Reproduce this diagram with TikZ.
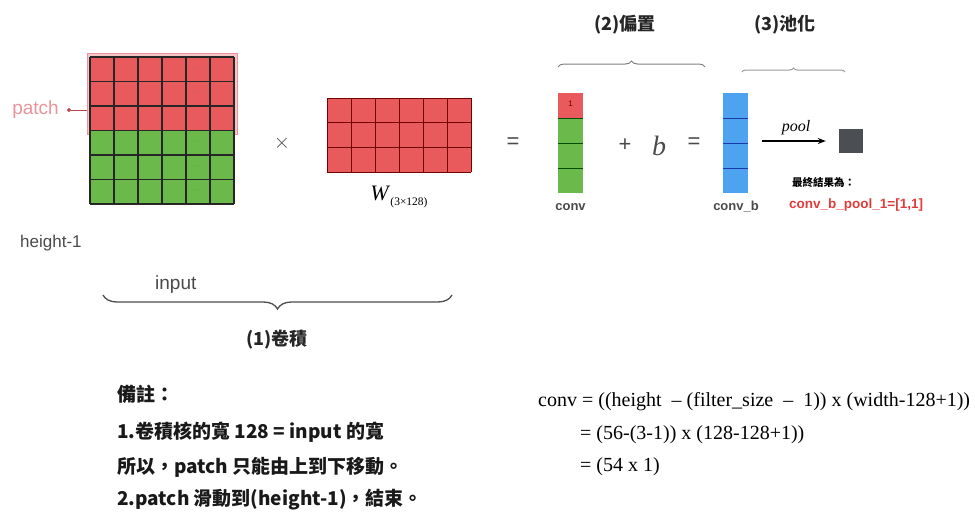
\documentclass[tikz,border=0pt]{standalone}
\usepackage{fontspec}
\setmainfont{Liberation Sans}
\newfontfamily\cjk{Noto Sans CJK TC}
\newfontfamily\tms{Liberation Serif}
\usetikzlibrary{decorations.pathreplacing,arrows.meta}
\definecolor{cred}{HTML}{E95A5C}
\definecolor{cgreen}{HTML}{6BB94B}
\definecolor{cblue}{HTML}{4DA3F0}
\definecolor{cpink}{HTML}{E8949A}
\definecolor{ctxt}{HTML}{4A4A4A}
\definecolor{csq}{HTML}{4B4E53}
\definecolor{cres}{HTML}{E03C3C}
\tikzset{
  gridline/.style={draw=black!85, line width=1.1pt},
  wline/.style={draw=red!45!black, line width=0.6pt},
  dotmark/.style={font=\fontsize{8}{8}\selectfont, text=black!55, inner sep=0},
  opsign/.style={font=\fontsize{22}{22}\selectfont, text=ctxt, inner sep=0},
  collabel/.style={font=\fontsize{13}{13}\selectfont\bfseries, text=ctxt, inner sep=0},
  lighttxt/.style={font=\fontsize{17}{17}\selectfont, text=ctxt, inner sep=0, anchor=west},
  title/.style={font=\cjk\bfseries\fontsize{18}{18}\selectfont, text=black!85, inner sep=0},
  note/.style={font=\cjk\bfseries\fontsize{19}{19}\selectfont, text=black!90, inner sep=0, anchor=west},
  formula/.style={font=\tms\fontsize{20}{20}\selectfont, text=black, inner sep=0, anchor=west},
  bracebig/.style={decorate, draw=black!70, line width=1.3pt},
  bracesmall/.style={decorate, draw=black!50, line width=1pt},
}
\begin{document}
\begin{tikzpicture}[x=1pt,y=-1pt]
\useasboundingbox (0,0) rectangle (975,512);
% ---------- input with patch ----------
\node[draw=cpink, fill=cred!35, line width=1pt, minimum width=150pt, minimum height=81pt, inner sep=0, anchor=north west] (patchbox) at (87,53) {};
\fill[cred] (90,57) rectangle (234,130.5);
\fill[cgreen] (90,130.5) rectangle (234,204);
\foreach \i in {0,...,6} \draw[gridline] (90+24*\i,57) -- (90+24*\i,204);
\foreach \j in {0,...,6} \draw[gridline] (90,57+24.5*\j) -- (234,57+24.5*\j);
\foreach \j in {0,...,5} \node[dotmark] (dots\j) at (198,68.25+24.5*\j) {$\cdots$};
\node[font=\fontsize{19}{19}\selectfont, text=cpink, inner sep=0, anchor=east] (patchlbl) at (59,110) {patch};
\coordinate (patchtip) at (67,110);
\draw[draw=cred!80!black, line width=0.8pt, {Circle[length=4pt]}-] (patchtip) -- (patchbox.west |- patchtip);
% ---------- times W ----------
\node[font=\fontsize{22}{22}\selectfont, text=ctxt, inner sep=0] (times) at (282,143) {$\times$};
\fill[cred] (327,98) rectangle (471,172);
\foreach \i in {0,...,6} \draw[wline] (327+24*\i,98) -- (327+24*\i,172);
\foreach \j in {0,...,3} \draw[wline] (327,98+24.667*\j) -- (471,98+24.667*\j);
\node[font=\tms\fontsize{22}{22}\selectfont, inner sep=0] (wlbl) at (399,197) {\textit{W}\raisebox{-5pt}{\fontsize{11.5}{11.5}\selectfont(3×128)}};
% ---------- conv ----------
\node[opsign] (eq1) at (513,143) {=};
\fill[cred] (558,93) rectangle (583,118);
\fill[cgreen] (558,118) rectangle (583,193);
\foreach \j in {118,143,168} \draw[draw=green!30!black, line width=0.8pt] (558,\j) -- (583,\j);
\node[font=\fontsize{8}{8}\selectfont, text=red!40!black, inner sep=0] (one) at (570.5,104) {1};
\node[collabel] (convlbl) at (570.5,207) {conv};
\node[opsign] (plus) at (625,145) {+};
\node[font=\tms\itshape\fontsize{28}{28}\selectfont, text=ctxt, inner sep=0] (blbl) at (659,146) {b};
\node[opsign] (eq2) at (694,143) {=};
% ---------- conv_b ----------
\fill[cblue] (723,93) rectangle (748,193);
\foreach \j in {118,143,168} \draw[draw=blue!50!cblue!70!black, line width=0.6pt] (723,\j) -- (748,\j);
\node[collabel] (convblbl) at (736,207) {conv\_b};
% ---------- pool ----------
\node[fill=csq, minimum size=24pt, inner sep=0] (sq) at (851,141) {};
\coordinate (poolA) at (762,141);
\draw[line width=1.6pt, -{Stealth[length=8pt,width=6pt]}, shorten >=13pt] (poolA) -- (sq.west);
\node[font=\tms\itshape\fontsize{16}{16}\selectfont, inner sep=0] (poollbl) at (796,128) {pool};
\node[font=\cjk\bfseries\fontsize{10.5}{10.5}\selectfont, inner sep=0, anchor=west] (final) at (792,183) {最終結果為：};
\node[font=\fontsize{13.5}{13.5}\selectfont\bfseries, text=cres, inner sep=0, anchor=west] (result) at (789,205) {conv\_b\_pool\_1=[1,1]};
% ---------- titles and braces ----------
\node[title] (t2) at (625,25) {(2)偏置};
\node[title] (t3) at (785,25) {(3)池化};
\draw[bracesmall, decoration={brace, amplitude=6pt}] (558,67) -- (705,67);
\draw[bracesmall, draw=black!40, decoration={brace, amplitude=4pt}] (742,72) -- (845,72);
\node[lighttxt] (h1) at (20,243) {height-1};
\node[font=\fontsize{19}{19}\selectfont, text=ctxt, inner sep=0, anchor=west] (inlbl) at (155,285) {input};
\draw[bracebig, decoration={brace, amplitude=14pt, mirror}] (103,295) -- (452,295);
\node[title] (t1) at (277,340) {(1)卷積};
% ---------- notes ----------
\node[note] (n0) at (117,394) {備註：};
\node[note] (n1) at (117,432) {1.卷積核的寬 128 = input 的寬};
\node[note] (n2) at (117,467) {所以，patch 只能由上到下移動。};
\node[note] (n3) at (117,500) {2.patch 滑動到(height-1)，結束。};
% ---------- formula ----------
\node[formula] (f1) at (538,402) {conv = ((height \ – (filter\_size \ – \ 1)) x (width-128+1))};
\node[formula] (f2) at (580,435) {= (56-(3-1)) x (128-128+1))};
\node[formula] (f3) at (580,467) {= (54 x 1)};
\end{tikzpicture}
\end{document}
